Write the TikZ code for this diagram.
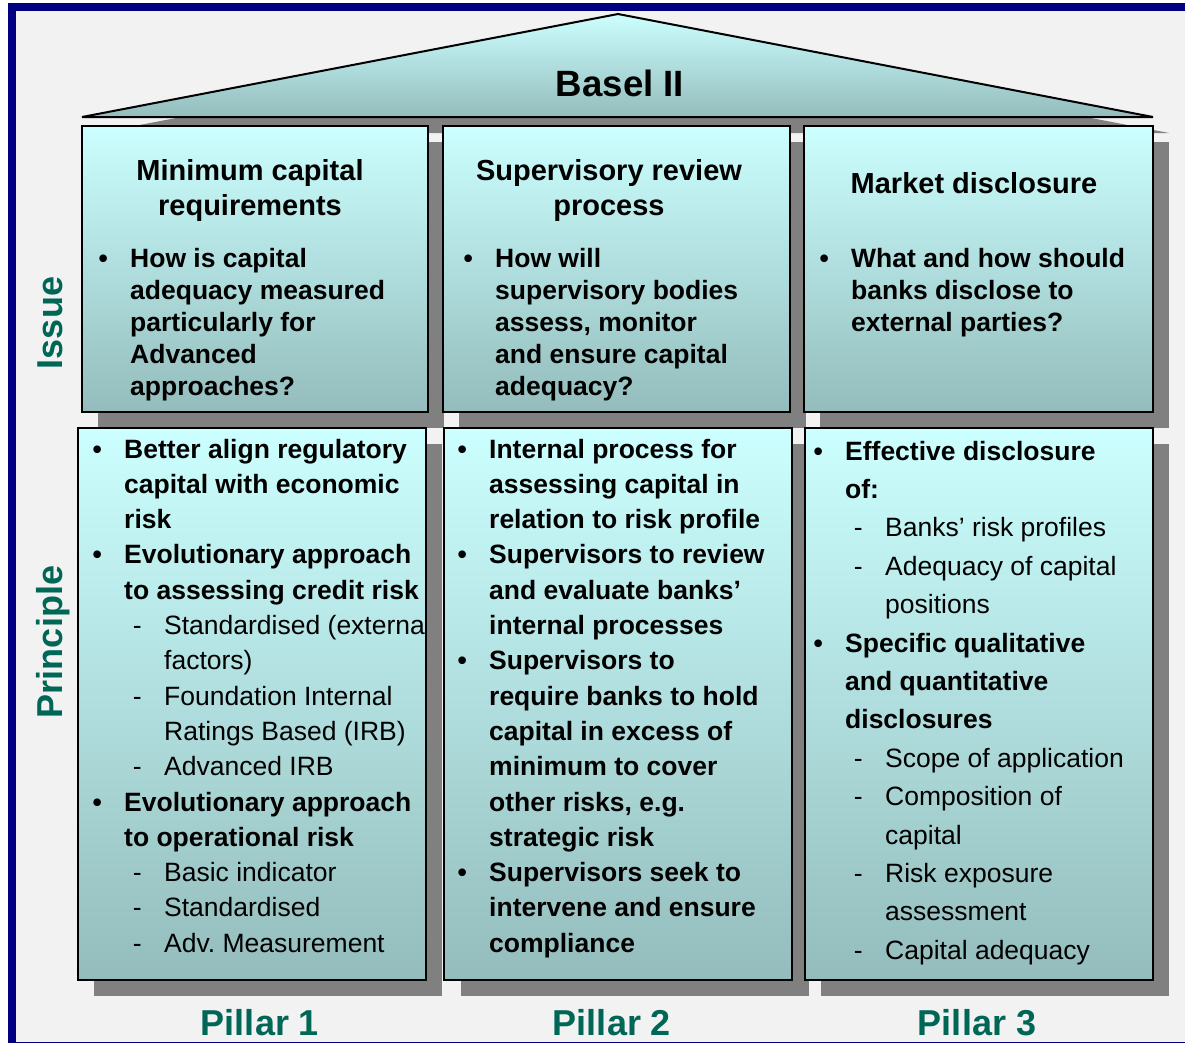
\documentclass[tikz,border=0pt]{standalone}
\usepackage{fontspec}
\setmainfont{Liberation Sans}
\frenchspacing
\definecolor{navyframe}{RGB}{0,0,128}
\definecolor{pagebg}{RGB}{242,242,242}
\definecolor{celltop}{RGB}{204,255,255}
\definecolor{cellbot}{RGB}{148,188,188}
\definecolor{dropshade}{RGB}{128,128,128}
\definecolor{labelteal}{RGB}{0,102,86}

% sub-item rows: a dash, then regular weight text
\newcommand\dashitem{\mdseries\makebox[40bp][l]{\hspace{8.6bp}-}}
\newcommand\dashcont{\mdseries\hspace{40bp}}

\tikzset{
  cell/.style={draw=black, line width=2bp, top color=celltop, bottom color=cellbot},
  dropshadow/.style={fill=dropshade},
  bodytext/.style={anchor=base west, inner sep=0pt,
    font=\fontsize{26.5bp}{#1}\selectfont\bfseries},
  titletext/.style={anchor=base, inner sep=0pt,
    font=\fontsize{29bp}{35bp}\selectfont\bfseries},
  sidelabel/.style={anchor=base, inner sep=0pt, text=labelteal,
    font=\fontsize{36bp}{40bp}\selectfont\bfseries},
}

\begin{document}
\begin{tikzpicture}[x=1bp, y=-1bp]
\useasboundingbox (0,0) rectangle (1185,1043);
\clip (0,0) rectangle (1185,1043);

% page and frame
\fill[pagebg] (12,6.5) rectangle (1195,1046);
\draw[navyframe, line width=8bp] (12,6.5) rectangle (1195,1046);

% drop shadows (offset 16,16)
\fill[dropshadow] (98,133) -- (634,30) -- (1169,133) -- cycle;
\fill[dropshadow] (98,142) rectangle (444,428);
\fill[dropshadow] (459,142) rectangle (806,428);
\fill[dropshadow] (820,142) rectangle (1169,428);
\fill[dropshadow] (94,444) rectangle (442,996);
\fill[dropshadow] (461,444) rectangle (809,996);
\fill[dropshadow] (821,444) rectangle (1169,996);

% roof
\draw[cell, line join=miter] (82,117) coordinate (roofL) -- (618,14) coordinate (apex)
  -- (1153,117) coordinate (roofR) -- cycle;
\node[anchor=base, inner sep=0pt, font=\fontsize{36.6bp}{40bp}\selectfont\bfseries]
  (basel) at (620,96) {Basel II};

% issue row
\draw[cell] (82,126) rectangle (428,412);
\draw[cell] (443,126) rectangle (790,412);
\draw[cell] (804,126) rectangle (1153,412);

% principle row
\draw[cell] (78,428) rectangle (426,980);
\draw[cell] (444,428) rectangle (792,980);
\draw[cell] (805,428) rectangle (1153,980);

% column titles
\node[titletext] (t1) at (250,180) {\begin{tabular}[t]{@{}c@{}}Minimum capital\\requirements\end{tabular}};
\node[titletext] (t2) at (609,180) {\begin{tabular}[t]{@{}c@{}}Supervisory review\\process\end{tabular}};
\node[titletext] (t3) at (974,193) {Market disclosure};

% issue texts
\node[bodytext=32bp] (i1) at (98.5,267) {\begin{tabular}[t]{@{}p{31.5bp}@{}l@{}}
\textbullet & How is capital\\
 & adequacy measured\\
 & particularly for\\
 & Advanced\\
 & approaches?
\end{tabular}};
\node[bodytext=32bp] (i2) at (463.5,267) {\begin{tabular}[t]{@{}p{31.5bp}@{}l@{}}
\textbullet & How will\\
 & supervisory bodies\\
 & assess, monitor\\
 & and ensure capital\\
 & adequacy?
\end{tabular}};
\node[bodytext=32bp] (i3) at (819.5,267) {\begin{tabular}[t]{@{}p{31.5bp}@{}l@{}}
\textbullet & What and how should\\
 & banks disclose to\\
 & external parties?
\end{tabular}};

% principle texts
\begin{scope}
\clip (78,428) rectangle (425,980);
\node[bodytext=35.3bp] (p1) at (92.5,458) {\begin{tabular}[t]{@{}p{31.5bp}@{}l@{}}
\textbullet & Better align regulatory\\
 & capital with economic\\
 & risk\\
\textbullet & Evolutionary approach\\
 & to assessing credit risk\\
 & \dashitem Standardised (external\\
 & \dashcont factors)\\
 & \dashitem Foundation Internal\\
 & \dashcont Ratings Based (IRB)\\
 & \dashitem Advanced IRB\\
\textbullet & Evolutionary approach\\
 & to operational risk\\
 & \dashitem Basic indicator\\
 & \dashitem Standardised\\
 & \dashitem Adv. Measurement
\end{tabular}};
\end{scope}
\node[bodytext=35.3bp] (p2) at (457.5,458) {\begin{tabular}[t]{@{}p{31.5bp}@{}l@{}}
\textbullet & Internal process for\\
 & assessing capital in\\
 & relation to risk profile\\
\textbullet & Supervisors to review\\
 & and evaluate banks’\\
 & internal processes\\
\textbullet & Supervisors to\\
 & require banks to hold\\
 & capital in excess of\\
 & minimum to cover\\
 & other risks, e.g.\\
 & strategic risk\\
\textbullet & Supervisors seek to\\
 & intervene and ensure\\
 & compliance
\end{tabular}};
\node[bodytext=38.4bp] (p3) at (813.5,460) {\begin{tabular}[t]{@{}p{31.5bp}@{}l@{}}
\textbullet & Effective disclosure\\
 & of:\\
 & \dashitem Banks’ risk profiles\\
 & \dashitem Adequacy of capital\\
 & \dashcont positions\\
\textbullet & Specific qualitative\\
 & and quantitative\\
 & disclosures\\
 & \dashitem Scope of application\\
 & \dashitem Composition of\\
 & \dashcont capital\\
 & \dashitem Risk exposure\\
 & \dashcont assessment\\
 & \dashitem Capital adequacy
\end{tabular}};

% side and bottom labels
\node[sidelabel, rotate=90] (issue) at (62,323) {Issue};
\node[sidelabel, rotate=90] (principle) at (62,642) {Principle};
\node[sidelabel] (pillar1) at (260,1035) {Pillar 1};
\node[sidelabel] (pillar2) at (612,1035) {Pillar 2};
\node[sidelabel] (pillar3) at (977,1035) {Pillar 3};
\end{tikzpicture}
\end{document}
